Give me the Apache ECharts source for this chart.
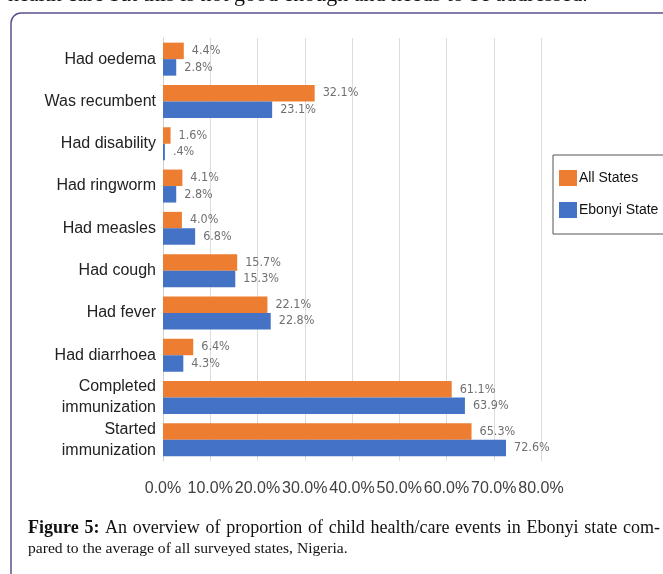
<!DOCTYPE html>
<html>
<head>
<meta charset="utf-8">
<script src="https://cdn.jsdelivr.net/npm/echarts@6/dist/echarts.min.js"></script>
<style>
html,body{margin:0;padding:0;background:#fff;}
#c{width:663px;height:574px;}
</style>
</head>
<body>
<div id="c"></div>
<script>
const categories = ['Had oedema','Was recumbent','Had disability','Had ringworm','Had measles','Had cough','Had fever','Had diarrhoea','Completed\nimmunization','Started\nimmunization'];
const allStates = [4.4, 32.1, 1.6, 4.1, 4.0, 15.7, 22.1, 6.4, 61.1, 65.3];
const ebonyi = [2.8, 23.1, 0.4, 2.8, 6.8, 15.3, 22.8, 4.3, 63.9, 72.6];
const seriesNames = ['All States', 'Ebonyi State'];
const xTicks = {min: 0, max: 80, interval: 10};
const captionLine1 = 'Figure 5: An overview of proportion of child health/care events in Ebonyi state com-';
const captionLine2 = 'pared to the average of all surveyed states, Nigeria.';
const topText = 'health care but this is not good enough and needs to be addressed.';

const SERIF = '"Liberation Serif","Times New Roman",serif';
const SANS = '"Liberation Sans", Arial, sans-serif';

// justified caption line (words spread between x0 and x1)
function justified(text, x0, x1, y, size, boldSize, boldCount) {
  const ctx = document.createElement('canvas').getContext('2d');
  const words = text.split(' ');
  const widths = words.map((w, i) => {
    ctx.font = (i < boldCount ? 'bold ' + boldSize : size) + 'px ' + SERIF;
    return ctx.measureText(w).width;
  });
  const total = widths.reduce((a, b) => a + b, 0);
  const gap = (x1 - x0 - total) / (words.length - 1);
  let x = x0;
  return words.map((w, i) => {
    const el = {type: 'text', x: x, y: y, silent: true,
      style: {text: w, fontFamily: SERIF, fontSize: i < boldCount ? boldSize : size,
        fontWeight: i < boldCount ? 'bold' : 'normal', fill: '#111', verticalAlign: 'middle'}};
    x += widths[i] + gap;
    return el;
  });
}

const chart = echarts.init(document.getElementById('c'), null, {renderer: 'canvas'});
const valFmt = p => (p.value < 1 ? String(p.value).replace(/^0/, '') : p.value.toFixed(1)) + '%';
const labelStyle = {
  show: true, position: 'right', distance: 8,
  fontFamily: '"Liberation Sans Narrow","DejaVu Sans Condensed",sans-serif',
  fontSize: 12.5, color: '#707070', formatter: valFmt
};
chart.setOption({
  animation: false,
  backgroundColor: '#fff',
  grid: {left: 163, right: 122, top: 38, bottom: 113, containLabel: false},
  legend: {
    orient: 'vertical', left: 553, top: 155,
    padding: [15, 12, 16, 6], itemGap: 16, itemWidth: 18, itemHeight: 16,
    borderColor: '#555', borderWidth: 1, borderRadius: 0,
    icon: 'rect',
    textStyle: {fontFamily: SANS, fontSize: 14, color: '#111', padding: [0,0,0,-3]},
    data: seriesNames
  },
  xAxis: {
    type: 'value', min: xTicks.min, max: xTicks.max, interval: xTicks.interval,
    axisLine: {show: false}, axisTick: {show: false},
    splitLine: {show: true, lineStyle: {color: '#dcdcdc', width: 1}},
    axisLabel: {formatter: v => v.toFixed(1) + '%', fontFamily: SANS, fontSize: 16, color: '#404040', margin: 20}
  },
  yAxis: {
    type: 'category', data: categories, inverse: true,
    axisLine: {show: true, lineStyle: {color: '#d0d0d0'}}, axisTick: {show: false},
    axisLabel: {fontFamily: SANS, fontSize: 16, color: '#222', margin: 7, lineHeight: 21, align: 'right'}
  },
  series: [
    {name: seriesNames[0], type: 'bar', data: allStates, barWidth: 16.5, barGap: '0%',
     itemStyle: {color: '#ED7D31'}, label: Object.assign({}, labelStyle, {offset: [0, 0]})},
    {name: seriesNames[1], type: 'bar', data: ebonyi, barWidth: 16.5, barGap: '0%',
     itemStyle: {color: '#4472C4'}, label: Object.assign({}, labelStyle, {offset: [0, 0]})}
  ],
  graphic: [
    {type: 'rect', silent: true, shape: {x: 11, y: 13, width: 700, height: 620, r: 10},
     style: {fill: 'none', stroke: '#5b5190', lineWidth: 1.5}},
    {type: 'text', x: 8, y: -5, silent: true,
     style: {text: topText, fontFamily: SERIF, fontSize: 22, fill: '#111', verticalAlign: 'middle'}}
  ].concat(justified(captionLine1, 28, 660, 528, 18, 18, 2))
   .concat([{type: 'text', x: 28, y: 549, silent: true,
     style: {text: captionLine2, fontFamily: SERIF, fontSize: 15.6, fill: '#111', verticalAlign: 'middle'}}])
});
</script>
</body>
</html>
